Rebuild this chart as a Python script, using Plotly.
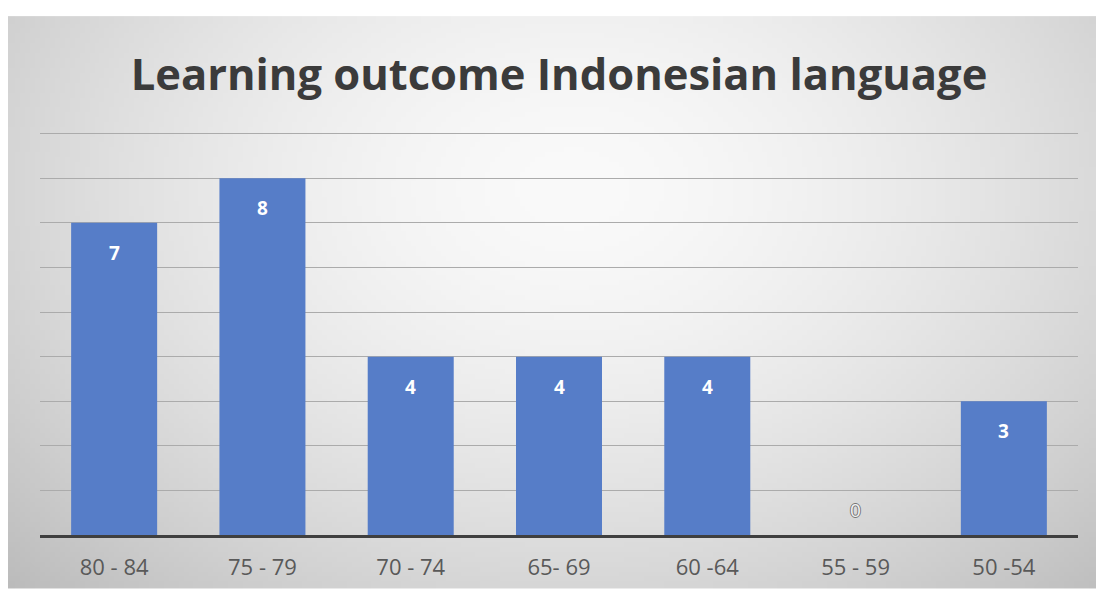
import base64, struct, zlib
import numpy as np
import plotly.graph_objects as go

categories = ["80 - 84", "75 - 79", "70 - 74", "65- 69", "60 -64", "55 - 59", "50 -54"]
values = [7, 8, 4, 4, 4, 0, 3]
title_text = "Learning outcome Indonesian language"


def gradient_png(w, h):
    ys, xs = np.mgrid[0:h, 0:w]
    dx = (xs / (w - 1) - 0.52) / 0.62
    dy = (ys / (h - 1) - 0.30) / 0.85
    d = np.sqrt(dx * dx + dy * dy)
    v = 250 - 48 * np.clip(d, 0, 1.25) ** 1.6
    v = np.clip(v, 0, 255).astype(np.uint8)
    raw = b"".join(b"\x00" + v[r].tobytes() for r in range(h))

    def chunk(t, data):
        c = struct.pack(">I", len(data)) + t + data
        return c + struct.pack(">I", zlib.crc32(t + data) & 0xFFFFFFFF)

    png = b"\x89PNG\r\n\x1a\n" + chunk(b"IHDR", struct.pack(">IIBBBBB", w, h, 8, 0, 0, 0, 0))
    png += chunk(b"IDAT", zlib.compress(raw, 9)) + chunk(b"IEND", b"")
    return "data:image/png;base64," + base64.b64encode(png).decode()


W, H = 1096, 593
ml, mr, mt, mb = 40, 18, 131, 54

fig = go.Figure()
fig.add_trace(go.Bar(
    x=categories, y=values,
    marker=dict(color="#567DC8", line=dict(width=0)),
    hoverinfo="skip",
))

# data labels
for c, v in zip(categories, values):
    if v > 0:
        fig.add_annotation(x=c, y=v, yshift=-30, text="<b>" + str(v) + "</b>", showarrow=False,
                           font=dict(family="Open Sans, sans-serif", size=19, color="white"))
    else:
        fig.add_annotation(x=c, y=v, yshift=25, text=str(v), showarrow=False,
                           font=dict(family="Open Sans, sans-serif", size=19, color="#f2f2f2",
                                     shadow="1px 0 0 #777, -1px 0 0 #777, 0 1px 0 #777, 0 -1px 0 #777"))

pw = W - ml - mr
ph = H - mt - mb
x0 = (8 - ml) / pw
y1 = (H - 15 - mb) / ph
fig.add_layout_image(dict(
    source=gradient_png(220, 116), xref="paper", yref="paper",
    x=x0, y=y1, sizex=(W - 8) / pw, sizey=(H - 15) / ph,
    xanchor="left", yanchor="top", sizing="stretch", layer="below",
))

fig.update_layout(
    width=W, height=H,
    margin=dict(l=ml, r=mr, t=mt, b=mb, pad=0),
    paper_bgcolor="white", plot_bgcolor="rgba(0,0,0,0)",
    bargap=0.42,
    showlegend=False,
    title=dict(text="<b>" + title_text + "</b>", xref="container", x=559 / W, xanchor="center",
               y=1 - 75 / H, yanchor="middle",
               font=dict(family="Open Sans, sans-serif", size=43.5, color="#3b3b3b")),
    xaxis=dict(showgrid=False, showline=True, linecolor="#3f3f3f", linewidth=3,
               ticks="", tickfont=dict(family="Open Sans, sans-serif", size=22, color="#595959"),
               ticklabelstandoff=11, fixedrange=True),
    yaxis=dict(range=[0, 9.06], dtick=1, showgrid=True, gridcolor="#ababab", gridwidth=1,
               showticklabels=False, zeroline=False, fixedrange=True),
)

fig.write_html("out.html")
